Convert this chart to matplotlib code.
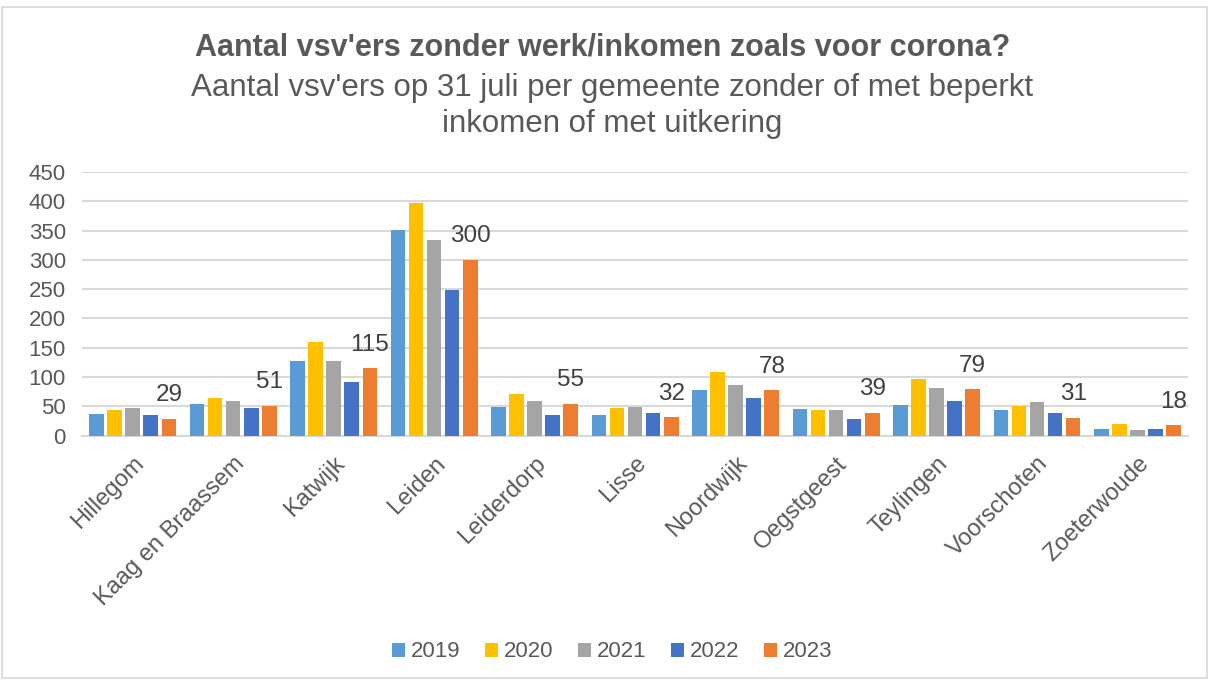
import numpy as np
import matplotlib.pyplot as plt
from matplotlib.patches import Rectangle

plt.rcParams['font.family'] = ['Liberation Sans', 'DejaVu Sans']

gemeenten = ['Hillegom', 'Kaag en Braassem', 'Katwijk', 'Leiden', 'Leiderdorp', 'Lisse',
             'Noordwijk', 'Oegstgeest', 'Teylingen', 'Voorschoten', 'Zoeterwoude']
jaren = ['2019', '2020', '2021', '2022', '2023']
v2019 = [38, 55, 128, 351, 49, 36, 78, 46, 53, 44, 11]
v2020 = [44, 65, 160, 397, 72, 47, 109, 44, 96, 51, 20]
v2021 = [48, 60, 128, 334, 60, 49, 87, 44, 82, 57, 10]
v2022 = [35, 48, 92, 248, 35, 39, 64, 28, 59, 39, 11]
v2023 = [29, 51, 115, 300, 55, 32, 78, 39, 79, 31, 18]
kleuren = ['#5B9BD5', '#FFC000', '#A5A5A5', '#4472C4', '#ED7D31']

series = [v2019, v2020, v2021, v2022, v2023]
tekst = '#595959'
grid = '#D9D9D9'

fig = plt.figure(figsize=(12.12, 6.82), dpi=100)
ax = fig.add_axes([0.068, 0.361, 0.912, 0.387])

x = np.arange(len(gemeenten))
step = 0.18
w = 0.145
for i, (vals, kl, jr) in enumerate(zip(series, kleuren, jaren)):
    bars = ax.bar(x + (i - 2) * step, vals, width=w, color=kl, label=jr, zorder=3)
    if jr == '2023':
        for b, v in zip(bars, vals):
            ax.annotate(str(v), (b.get_x() + b.get_width() / 2, v), xytext=(0, 9),
                        textcoords='offset points', ha='center', va='bottom',
                        fontsize=17.5, color='#404040')

ax.set_ylim(0, 450)
ax.set_xlim(-0.5, len(gemeenten) - 0.5)
ax.set_yticks(range(0, 451, 50))
ax.yaxis.grid(True, color=grid, linewidth=1.5, zorder=0)
ax.set_axisbelow(True)
for s in ['top', 'right', 'left']:
    ax.spines[s].set_visible(False)
ax.spines['bottom'].set_color(grid)
ax.spines['bottom'].set_linewidth(1.5)
ax.tick_params(length=0, labelsize=16, colors=tekst)
ax.tick_params(axis='x', labelsize=17)
ax.tick_params(axis='y', pad=12)
ax.tick_params(axis='x', pad=12)
ax.set_xticks(x)
ax.set_xticklabels(gemeenten, rotation=45, ha='right', rotation_mode='anchor')

fig.text(0.497, 0.931, "Aantal vsv'ers zonder werk/inkomen zoals voor corona?",
         ha='center', va='center', fontsize=22, fontweight='bold', color=tekst)
fig.text(0.505, 0.845, "Aantal vsv'ers op 31 juli per gemeente zonder of met beperkt\ninkomen of met uitkering",
         ha='center', va='center', fontsize=22.5, color=tekst, linespacing=1.25)

fig.legend(loc='center', bbox_to_anchor=(0.505, 0.044), ncol=5, frameon=False,
           fontsize=16, labelcolor=tekst, handlelength=0.6, handleheight=0.6,
           handletextpad=0.25, columnspacing=1.1)

fig.add_artist(Rectangle((0.002, 0.006), 0.994, 0.984, transform=fig.transFigure,
                         fill=False, edgecolor=grid, linewidth=1.2))

fig.savefig('out.png', dpi=100)
